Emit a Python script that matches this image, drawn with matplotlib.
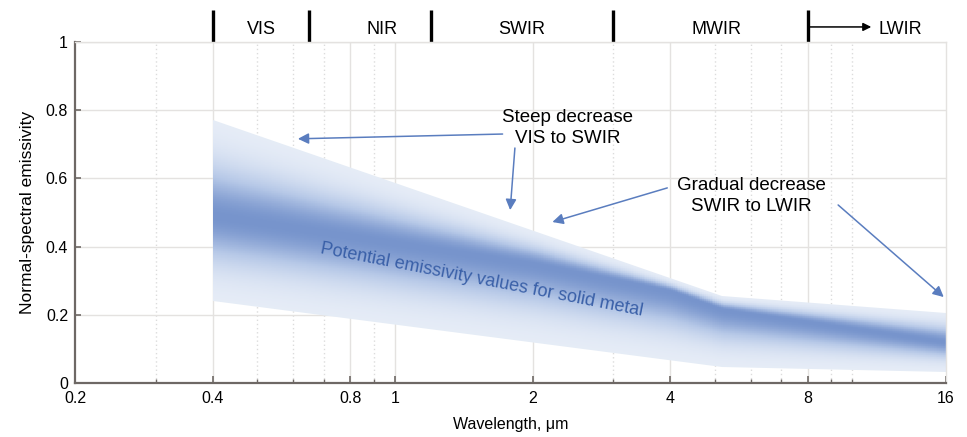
import numpy as np
import matplotlib
matplotlib.use("Agg")
import matplotlib.pyplot as plt
from matplotlib.colors import LinearSegmentedColormap
from matplotlib.ticker import FixedLocator, FixedFormatter, NullFormatter
import matplotlib.transforms as mtransforms

plt.rcParams["font.family"] = ["Liberation Sans", "DejaVu Sans"]

# emissivity band for solid metals
wl = [0.4, 5.2, 16]
upper = [0.77, 0.255, 0.205]
lower = [0.24, 0.048, 0.032]
center_wl = [0.4, 2, 4, 5.2, 16]
center = [0.49, 0.35, 0.27, 0.215, 0.12]

# spectral regions along the top
region_edges = [0.4, 0.65, 1.2, 3, 8]
region_names = ["VIS", "NIR", "SWIR", "MWIR", "LWIR"]
region_label_x = [0.51, 0.94, 1.89, 5.06, 12.7]

major_x = [0.2, 0.4, 0.8, 1, 2, 4, 8, 16]
major_x_labels = ["0.2", "0.4", "0.8", "1", "2", "4", "8", "16"]
minor_x = [0.3, 0.5, 0.6, 0.7, 0.9, 3, 5, 6, 7, 9, 10]
y_ticks = [0, 0.2, 0.4, 0.6, 0.8, 1]
y_labels = ["0", "0.2", "0.4", "0.6", "0.8", "1"]

arrow_col = "#5a7dbf"
spine_col = "#6e6865"
grid_col = "#e4e2e0"

fig = plt.figure(figsize=(9.67, 4.37), dpi=100)
ax = fig.add_axes([0.0776, 0.1236, 0.9004, 0.7804])
ax.set_xscale("log", base=2)
ax.set_xlim(0.2, 16)
ax.set_ylim(0, 1)

# grid: solid at labelled wavelengths, dotted at the rest
for x in [0.4, 0.8, 1, 2, 4, 8]:
    ax.axvline(x, color=grid_col, lw=1.0, zorder=0)
for x in minor_x:
    ax.axvline(x, color="#dcdcdc", lw=1.0, ls=(0, (1, 2)), zorder=0)
for y in y_ticks[1:]:
    ax.axhline(y, color=grid_col, lw=1.0, zorder=0)

# shaded band with a soft gradient around the centre line
xs = np.logspace(np.log2(0.4), np.log2(16), 400, base=2)
ys = np.linspace(0, 0.8, 400)
X, Y = np.meshgrid(xs, ys)
lx = np.log2(xs)
up = np.interp(lx, np.log2(wl), upper)
lo = np.interp(lx, np.log2(wl), lower)
mid = np.interp(lx, np.log2(center_wl), center)
U, L, M = up[None, :], lo[None, :], mid[None, :]
t = np.where(Y >= M, (Y - M) / (U - M), (M - Y) / (M - L))
t = np.clip(t, 0, 1)
val = np.exp(-(t / 0.5) ** 2)
cmap = LinearSegmentedColormap.from_list("band", ["#e7edf7", "#b6c8e7", "#7794cc"])
band = ax.fill_between(wl, lower, upper, facecolor="none", edgecolor="none")
mesh = ax.pcolormesh(X, Y, val, cmap=cmap, vmin=0, vmax=1, shading="auto",
                     zorder=1, rasterized=True)
mesh.set_clip_path(band.get_paths()[0], transform=ax.transData)

ax.text(1.55, 0.302, "Potential emissivity values for solid metal", color="#3a60a8",
        fontsize=13, rotation=-11, rotation_mode="anchor", ha="center", va="center",
        zorder=3)

# annotations
ap = dict(arrowstyle="-|>", color=arrow_col, lw=1.1, mutation_scale=16,
          shrinkA=0, shrinkB=0)
ax.text(2.39, 0.748, "Steep decrease\nVIS to SWIR", fontsize=13.5, ha="center",
        va="center", linespacing=1.25, zorder=4)
ax.annotate("", xy=(0.614, 0.716), xytext=(1.72, 0.73), arrowprops=ap, zorder=4)
ax.annotate("", xy=(1.787, 0.507), xytext=(1.83, 0.689), arrowprops=ap, zorder=4)
ax.text(6.02, 0.548, "Gradual decrease\nSWIR to LWIR", fontsize=13.5, ha="center",
        va="center", linespacing=1.3, zorder=4)
ax.annotate("", xy=(2.21, 0.472), xytext=(3.94, 0.572), arrowprops=ap, zorder=4)
ax.annotate("", xy=(15.84, 0.252), xytext=(9.31, 0.522), arrowprops=ap, zorder=4)

# region markers above the plot
trans = mtransforms.blended_transform_factory(ax.transData, ax.transAxes)
for x in region_edges:
    ax.plot([x, x], [1.0, 1.094], color="black", lw=2.4, transform=trans,
            clip_on=False, solid_capstyle="butt")
for x, name in zip(region_label_x, region_names):
    ax.text(x, 1.036, name, transform=trans, fontsize=13, ha="center", va="center")
ax.annotate("", xy=(11.0, 1.044), xytext=(8, 1.044), xycoords=trans, textcoords=trans,
            arrowprops=dict(arrowstyle="-|>", color="black", lw=1.1,
                            mutation_scale=12, shrinkA=0, shrinkB=0),
            annotation_clip=False)

# axes styling
ax.xaxis.set_major_locator(FixedLocator(major_x))
ax.xaxis.set_major_formatter(FixedFormatter(major_x_labels))
ax.xaxis.set_minor_locator(FixedLocator(minor_x))
ax.xaxis.set_minor_formatter(NullFormatter())
ax.set_yticks(y_ticks)
ax.set_yticklabels(y_labels)
ax.tick_params(axis="both", which="major", direction="in", length=5, width=1.2,
               color=spine_col, labelsize=11.5)
ax.tick_params(axis="x", which="major", pad=6)
ax.tick_params(axis="y", which="major", length=4, pad=5)
ax.tick_params(axis="x", which="minor", direction="in", length=3, width=1.0,
               color=spine_col)
for s in ["left", "bottom"]:
    ax.spines[s].set_color(spine_col)
    ax.spines[s].set_linewidth(1.6)
for s in ["top", "right"]:
    ax.spines[s].set_color(grid_col)
    ax.spines[s].set_linewidth(1.0)

ax.set_xlabel("Wavelength, \u03bcm", fontsize=11.5, labelpad=8)
ax.set_ylabel("Normal-spectral emissivity", fontsize=12.5, labelpad=8)

fig.savefig("out.png", dpi=100)
